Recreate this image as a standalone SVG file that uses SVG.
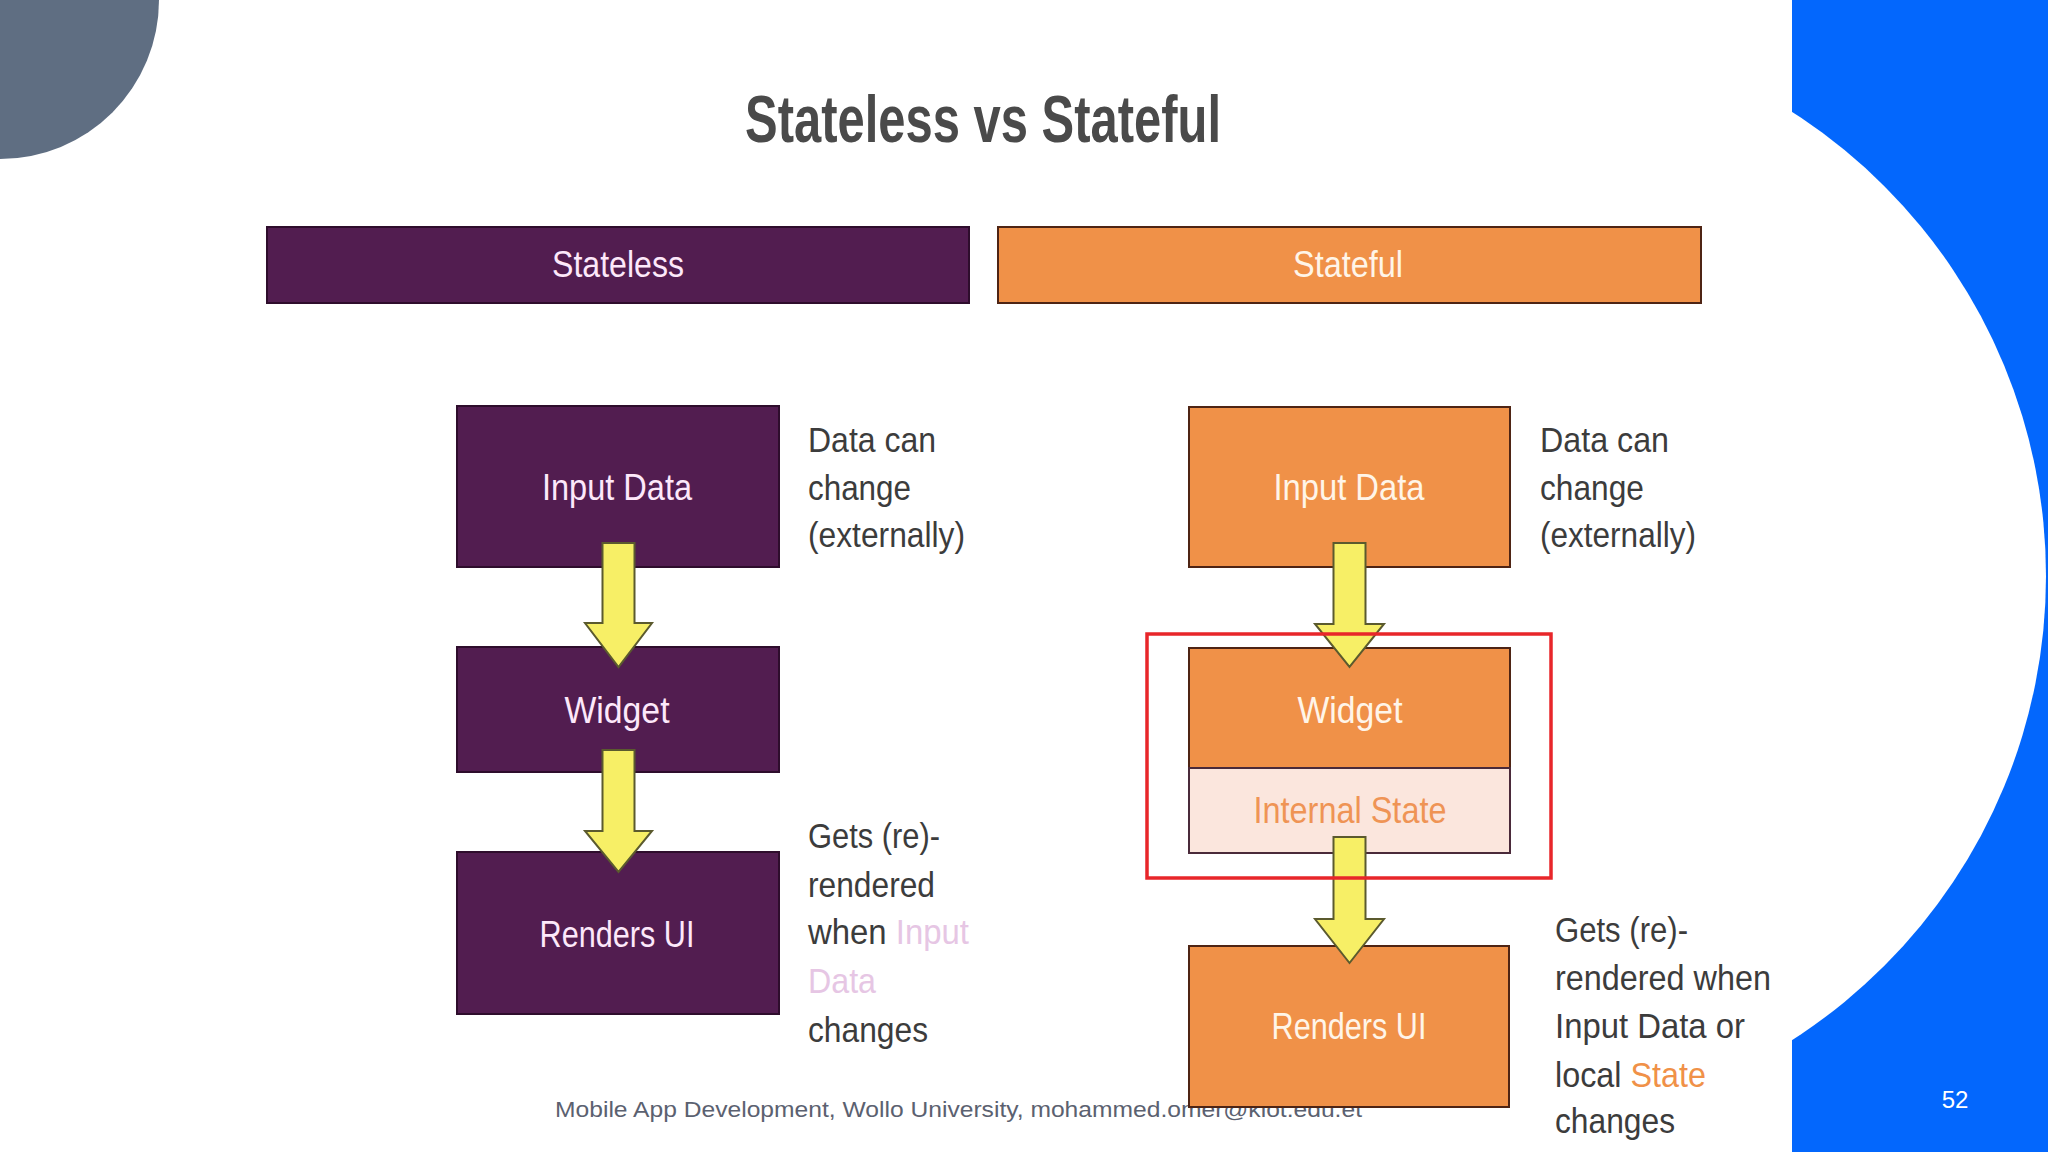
<svg xmlns="http://www.w3.org/2000/svg" width="2048" height="1152" viewBox="0 0 2048 1152">
  <style>
    .sans { font-family: "Liberation Sans", Arial, sans-serif; }
    .purple { fill: #521d50; stroke: #2e0d2c; stroke-width: 2; }
    .orange { fill: #f09148; stroke: #4e2414; stroke-width: 2; }
    .istate { fill: #fbe6dd; stroke: #4a2a3a; stroke-width: 2; }
    .lblP { fill: #fde8fa; font-size: 37px; text-anchor: middle; }
    .lblO { fill: #fff5e8; font-size: 37px; text-anchor: middle; }
    .side { fill: #3c3c3c; font-size: 35px; }
    .arrow { fill: #f7ef66; stroke: #5b5a2e; stroke-width: 2; stroke-linejoin: miter; }
  </style>

  <!-- background -->
  <rect x="0" y="0" width="2048" height="1152" fill="#ffffff"/>
  <circle cx="0" cy="0" r="159" fill="#5f6e82"/>
  <rect x="1792" y="0" width="256" height="1152" fill="#0367fd"/>
  <circle cx="1495" cy="576" r="551" fill="#ffffff"/>

  <!-- title -->
  <text id="title" class="sans" x="983" y="142" font-size="66" font-weight="bold" fill="#4a4a4a" text-anchor="middle" textLength="476" lengthAdjust="spacingAndGlyphs">Stateless vs Stateful</text>

  <!-- headers -->
  <g id="header-stateless">
    <rect x="267" y="227" width="702" height="76" class="purple"/>
    <text class="sans lblP" x="618" y="277" textLength="132" lengthAdjust="spacingAndGlyphs">Stateless</text>
  </g>
  <g id="header-stateful">
    <rect x="998" y="227" width="703" height="76" class="orange"/>
    <text class="sans lblO" x="1348" y="277" textLength="110" lengthAdjust="spacingAndGlyphs">Stateful</text>
  </g>

  <!-- footer -->
  <text id="footer" class="sans" x="555" y="1117" font-size="22" fill="#5b6170" textLength="807" lengthAdjust="spacingAndGlyphs">Mobile App Development, Wollo University, mohammed.omer@kiot.edu.et</text>
  <text id="page-number" class="sans" x="1955" y="1108" font-size="24" fill="#ffffff" text-anchor="middle">52</text>

  <!-- left column nodes -->
  <g id="l-input">
    <rect x="457" y="406" width="322" height="161" class="purple"/>
    <text class="sans lblP" x="617" y="500" textLength="150" lengthAdjust="spacingAndGlyphs">Input Data</text>
  </g>
  <g id="l-widget">
    <rect x="457" y="647" width="322" height="125" class="purple"/>
    <text class="sans lblP" x="617" y="723" textLength="105" lengthAdjust="spacingAndGlyphs">Widget</text>
  </g>
  <g id="l-render">
    <rect x="457" y="852" width="322" height="162" class="purple"/>
    <text class="sans lblP" x="617" y="947" textLength="155" lengthAdjust="spacingAndGlyphs">Renders UI</text>
  </g>

  <!-- right column nodes -->
  <g id="r-input">
    <rect x="1189" y="407" width="321" height="160" class="orange"/>
    <text class="sans lblO" x="1349" y="500" textLength="151" lengthAdjust="spacingAndGlyphs">Input Data</text>
  </g>
  <g id="r-widget">
    <rect x="1189" y="648" width="321" height="120" class="orange"/>
    <text class="sans lblO" x="1350" y="723" textLength="105" lengthAdjust="spacingAndGlyphs">Widget</text>
  </g>
  <g id="r-state">
    <rect x="1189" y="768" width="321" height="85" class="istate"/>
    <text class="sans" x="1350" y="823" font-size="37" fill="#ef9455" text-anchor="middle" textLength="193" lengthAdjust="spacingAndGlyphs">Internal State</text>
  </g>
  <g id="r-render">
    <rect x="1189" y="946" width="320" height="161" class="orange"/>
    <text class="sans lblO" x="1349" y="1039" textLength="155" lengthAdjust="spacingAndGlyphs">Renders UI</text>
  </g>

  <!-- side notes -->
  <g id="l-note-top" class="sans side">
    <text x="808" y="452" textLength="128" lengthAdjust="spacingAndGlyphs">Data can</text>
    <text x="808" y="500" textLength="103" lengthAdjust="spacingAndGlyphs">change</text>
    <text x="808" y="547" textLength="157" lengthAdjust="spacingAndGlyphs">(externally)</text>
  </g>
  <g id="l-note-bottom" class="sans side">
    <text x="808" y="848" textLength="132" lengthAdjust="spacingAndGlyphs">Gets (re)-</text>
    <text x="808" y="897" textLength="127" lengthAdjust="spacingAndGlyphs">rendered</text>
    <text x="808" y="944" textLength="161" lengthAdjust="spacingAndGlyphs">when <tspan fill="#e6c6e4">Input</tspan></text>
    <text x="808" y="993" fill="#e6c6e4" textLength="68" lengthAdjust="spacingAndGlyphs">Data</text>
    <text x="808" y="1042" textLength="120" lengthAdjust="spacingAndGlyphs">changes</text>
  </g>
  <g id="r-note-top" class="sans side">
    <text x="1540" y="452" textLength="129" lengthAdjust="spacingAndGlyphs">Data can</text>
    <text x="1540" y="500" textLength="104" lengthAdjust="spacingAndGlyphs">change</text>
    <text x="1540" y="547" textLength="156" lengthAdjust="spacingAndGlyphs">(externally)</text>
  </g>
  <g id="r-note-bottom" class="sans side">
    <text x="1555" y="942" textLength="133" lengthAdjust="spacingAndGlyphs">Gets (re)-</text>
    <text x="1555" y="990" textLength="216" lengthAdjust="spacingAndGlyphs">rendered when</text>
    <text x="1555" y="1038" textLength="190" lengthAdjust="spacingAndGlyphs">Input Data or</text>
    <text x="1555" y="1087" textLength="151" lengthAdjust="spacingAndGlyphs">local <tspan fill="#f09148">State</tspan></text>
    <text x="1555" y="1133" textLength="120" lengthAdjust="spacingAndGlyphs">changes</text>
  </g>

  <!-- connectors -->
  <g id="connectors">
    <path class="arrow" d="M602.5,543 H634.5 V623 H652 L618.5,667 L585,623 H602.5 Z"/>
    <path class="arrow" d="M602.5,750 H634.5 V831 H652 L618.5,872 L585,831 H602.5 Z"/>
    <path class="arrow" d="M1333.5,543 H1365.5 V624 H1384 L1349.5,667 L1315,624 H1333.5 Z"/>
    <path class="arrow" d="M1333.5,837 H1365.5 V919 H1384 L1349.5,963 L1315,919 H1333.5 Z"/>
  </g>

  <!-- highlight frame -->
  <rect id="stateful-highlight" x="1147" y="634" width="404" height="244" fill="none" stroke="#e8262a" stroke-width="3.5"/>
</svg>
